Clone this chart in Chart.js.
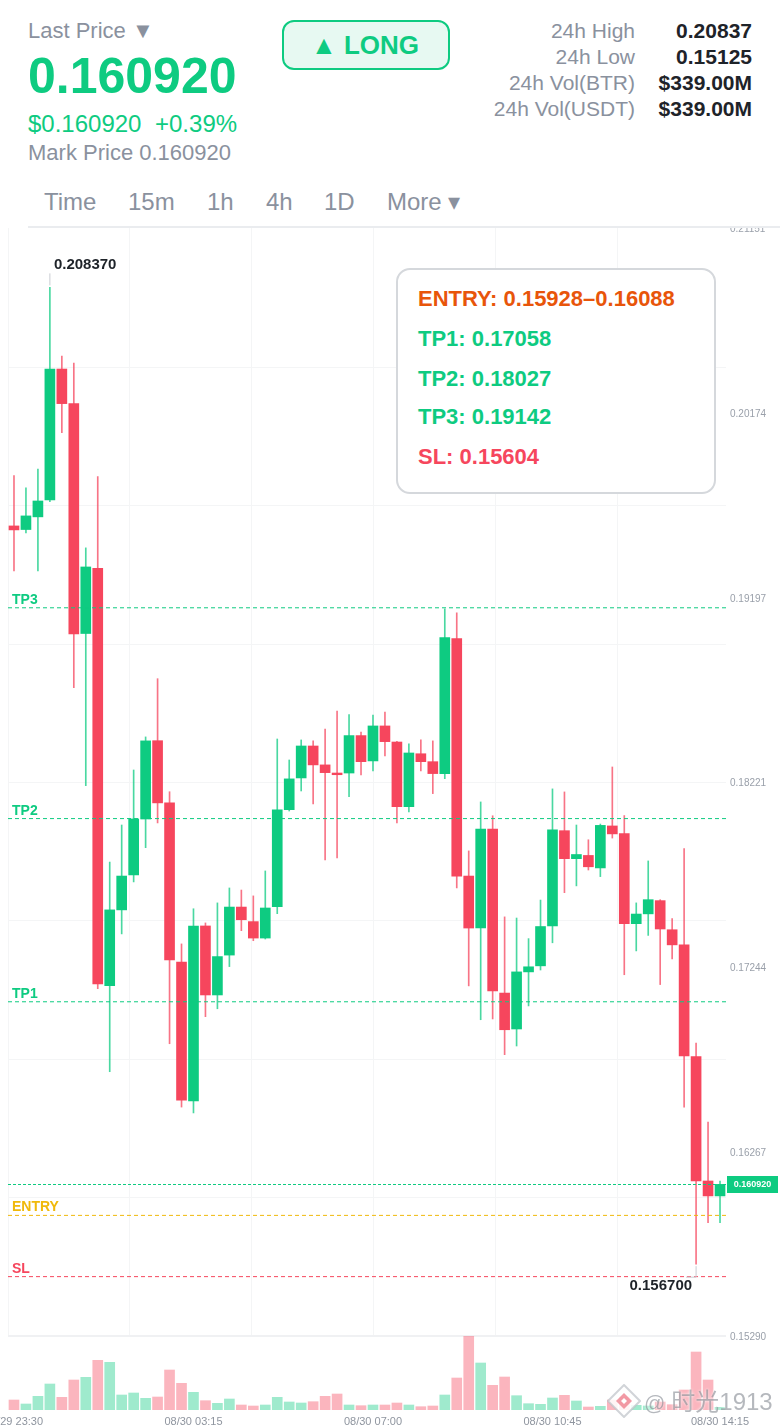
<!DOCTYPE html>
<html>
<head>
<meta charset="utf-8">
<title>Last Price</title>
<script src="https://cdn.jsdelivr.net/npm/chart.js"></script>
<style>
html, body { margin: 0; padding: 0; background: #fff; }
body { width: 780px; height: 1428px; position: relative; overflow: hidden; font-family: "Liberation Sans", Arial, sans-serif; }
canvas { position: absolute; left: 0; }
#priceChart { top: 200px; z-index: 1; }
#volumeChart { top: 1336px; z-index: 2; }
.t { position: absolute; white-space: pre; line-height: 1; z-index: 5; }
.gray { color: #8a919e; }
.green { color: #0ecb81; }
#header { position: absolute; left: 0; top: 0; width: 780px; height: 226px; background: #fff; z-index: 4; }
#rule { position: absolute; left: 28px; top: 226px; width: 752px; height: 2px; background: #eaecef; z-index: 4; }
#long { position: absolute; left: 282px; top: 20px; width: 162px; padding-right: 2px; height: 46px; border: 2px solid #0ecb81; border-radius: 12px; background: #e7f9f2; color: #0ecb81; font-weight: bold; font-size: 26px; line-height: 46px; text-align: center; z-index: 5; }
.lab { position: absolute; right: 145px; font-size: 21px; line-height: 1; color: #8a919e; z-index: 5; }
.val { position: absolute; right: 28px; font-size: 21px; line-height: 1; font-weight: bold; color: #1e2329; z-index: 5; }
#box { position: absolute; left: 396px; top: 268px; width: 316px; height: 222px; border: 2px solid #d5d8dc; border-radius: 14px; background: #fff; z-index: 3; }
.row { position: absolute; left: 418px; font-size: 22px; line-height: 1; font-weight: bold; z-index: 4; }
#mark { position: absolute; left: 644px; top: 1390px; font-size: 24px; line-height: 1; color: rgba(120,125,135,.55); text-shadow: 0 0 3px #fff; z-index: 6; white-space: pre; font-family: "Liberation Sans", "Noto Sans CJK SC", sans-serif; }
#mark span { font-size: 21px; margin-right: 6px; }
#logo { position: absolute; left: 607px; top: 1384px; z-index: 6; }
</style>
</head>
<body>
<div id="header"></div>
<div id="rule"></div>

<div class="t gray" style="left:28px;top:20px;font-size:22px">Last Price ▼</div>
<div class="t green" style="left:28px;top:51px;font-size:50px;font-weight:bold">0.160920</div>
<div class="t green" style="left:28px;top:112px;font-size:24px">$0.160920</div>
<div class="t green" style="left:155px;top:112px;font-size:24px">+0.39%</div>
<div class="t gray" style="left:28px;top:142px;font-size:22px">Mark Price 0.160920</div>

<div id="long">▲ LONG</div>

<div class="lab" style="top:20px">24h High</div><div class="val" style="top:20px">0.20837</div>
<div class="lab" style="top:46px">24h Low</div><div class="val" style="top:46px">0.15125</div>
<div class="lab" style="top:72px">24h Vol(BTR)</div><div class="val" style="top:72px">$339.00M</div>
<div class="lab" style="top:98px">24h Vol(USDT)</div><div class="val" style="top:98px">$339.00M</div>

<div class="t gray" style="left:44px;top:190px;font-size:24px">Time</div>
<div class="t gray" style="left:128px;top:190px;font-size:24px">15m</div>
<div class="t gray" style="left:207px;top:190px;font-size:24px">1h</div>
<div class="t gray" style="left:266px;top:190px;font-size:24px">4h</div>
<div class="t gray" style="left:324px;top:190px;font-size:24px">1D</div>
<div class="t gray" style="left:387px;top:190px;font-size:24px">More ▾</div>

<canvas id="priceChart" width="780" height="1150"></canvas>
<canvas id="volumeChart" width="780" height="92"></canvas>

<div id="box"></div>
<div class="row" style="top:288px;color:#e8550a">ENTRY: 0.15928–0.16088</div>
<div class="row green" style="top:328px">TP1: 0.17058</div>
<div class="row green" style="top:368px">TP2: 0.18027</div>
<div class="row green" style="top:406px">TP3: 0.19142</div>
<div class="row" style="top:446px;color:#f6465d">SL: 0.15604</div>

<svg id="logo" width="34" height="34" viewBox="0 0 34 34">
  <path d="M17 1 L33 17 L17 33 L1 17 Z" fill="rgba(255,255,255,.85)" stroke="rgba(190,194,200,.7)" stroke-width="2"/>
  <path d="M17 9 L25 17 L17 25 L9 17 Z" fill="rgba(238,120,135,.75)"/>
  <path d="M17 14 L20 17 L17 20 L14 17 Z" fill="#fff"/>
</svg>
<div id="mark"><span>@</span>时光1913</div>

<script>
// 15 minute candles, 08/29 23:30 to 08/30 14:15
var categories = [
    '08/29 23:30', '08/29 23:45', '08/30 00:00', '08/30 00:15', '08/30 00:30', '08/30 00:45',
    '08/30 01:00', '08/30 01:15', '08/30 01:30', '08/30 01:45', '08/30 02:00', '08/30 02:15',
    '08/30 02:30', '08/30 02:45', '08/30 03:00', '08/30 03:15', '08/30 03:30', '08/30 03:45',
    '08/30 04:00', '08/30 04:15', '08/30 04:30', '08/30 04:45', '08/30 05:00', '08/30 05:15',
    '08/30 05:30', '08/30 05:45', '08/30 06:00', '08/30 06:15', '08/30 06:30', '08/30 06:45',
    '08/30 07:00', '08/30 07:15', '08/30 07:30', '08/30 07:45', '08/30 08:00', '08/30 08:15',
    '08/30 08:30', '08/30 08:45', '08/30 09:00', '08/30 09:15', '08/30 09:30', '08/30 09:45',
    '08/30 10:00', '08/30 10:15', '08/30 10:30', '08/30 10:45', '08/30 11:00', '08/30 11:15',
    '08/30 11:30', '08/30 11:45', '08/30 12:00', '08/30 12:15', '08/30 12:30', '08/30 12:45',
    '08/30 13:00', '08/30 13:15', '08/30 13:30', '08/30 13:45', '08/30 14:00', '08/30 14:15'
];
var xLabels = ['08/29 23:30', '08/30 03:15', '08/30 07:00', '08/30 10:45', '08/30 14:15'];

var opens = [
    .19575, .19556, .19623, .19712, .20405, .20222, .19006, .19351, .17143, .17544,
    .17729, .18025, .18439, .18110, .17268, .16533, .17459, .17094, .17305, .17559,
    .17482, .17395, .17561, .18074, .18242, .18411, .18311, .18268, .18268, .18466,
    .18332, .18517, .18432, .18090, .18370, .18328, .18265, .18979, .17723, .17448,
    .17972, .17104, .16914, .17216, .17248, .17459, .17963, .17815, .17832, .17766,
    .17988, .17947, .17471, .17523, .17593, .17439, .17359, .16768, .16110, .16031
];
var highs = [
    .19841, .19776, .19876, .20837, .20474, .20437, .19459, .19836, .17797, .17993,
    .18284, .18459, .18767, .18169, .17364, .17550, .17475, .17581, .17660, .17649,
    .17618, .17750, .18448, .18337, .18443, .18438, .18501, .18596, .18577, .18485,
    .18575, .18591, .18435, .18422, .18443, .18438, .19136, .19116, .17856, .18115,
    .18042, .17507, .17501, .17392, .17596, .18184, .18168, .17993, .17915, .17998,
    .18300, .18043, .17581, .17803, .17598, .17498, .17868, .16840, .16422, .16110
];
var lows = [
    .19337, .19538, .19337, .19704, .20068, .18720, .18201, .17127, .16688, .17417,
    .17692, .17873, .18004, .16836, .16501, .16470, .16979, .17021, .17244, .17434,
    .17381, .17390, .17524, .18067, .18173, .18104, .17808, .17819, .18143, .18258,
    .18279, .18358, .18004, .18062, .18279, .18159, .18238, .17660, .17142, .16963,
    .16967, .16778, .16824, .17036, .17226, .17370, .17635, .17671, .17755, .17720,
    .17924, .17201, .17327, .17409, .17149, .17284, .16501, .15670, .15889, .15889
];
var closes = [
    .19554, .19628, .19707, .20405, .20222, .19004, .19358, .17152, .17544, .17723,
    .18025, .18438, .18110, .17279, .16538, .17459, .17094, .17297, .17559, .17492,
    .17395, .17554, .18073, .18237, .18411, .18311, .18270, .18259, .18466, .18328,
    .18517, .18434, .18090, .18374, .18328, .18265, .18984, .17723, .17448, .17972,
    .17115, .16910, .17216, .17243, .17456, .17967, .17815, .17837, .17772, .17991,
    .17946, .17471, .17522, .17598, .17443, .17359, .16772, .16110, .16031, .16092
];
var volumes = [
    10, 6, 13.7, 26, 12.7, 30, 32.7, 49.7, 47.7, 15,
    17, 11.7, 13, 40, 26.7, 17.7, 9.3, 6.7, 11, 5,
    4, 5, 12.7, 8, 7, 8.3, 13.7, 16, 5, 4.3,
    5, 5, 7, 5, 3.3, 4, 15, 32, 74, 47,
    24.7, 33, 14.3, 6.3, 5.7, 12, 14.7, 9, 3, 3.7,
    10, 13, 4.7, 4, 8, 5.3, 20, 58, 30, 2.7
];

var priceTicks = [.21151, .20174, .19197, .18221, .17244, .16267, .15290];
var gridPrices = [.20418, .19686, .18953, .18221, .17488, .16755, .16023];
var gridCandles = [10.19, 20.38, 30.57, 40.76, 50.95];
var lastPrice = .16092;

var levelNames = ['TP3', 'TP2', 'TP1', 'ENTRY', 'SL'];
var levelPrices = [.19142, .18027, .17058, .15928, .15604];
var levelColors = ['#0ecb81', '#0ecb81', '#0ecb81', '#f0b90b', '#f6465d'];

var GREEN = '#0ecb81';
var RED = '#f6465d';
var FONT = '"Liberation Sans", Arial, sans-serif';

function candleColor(i, alpha) {
    var c = closes[i] >= opens[i] ? '14,203,129' : '246,70,93';
    return 'rgba(' + c + ',' + alpha + ')';
}

// stops first/last tick labels from pushing the chart area inwards
function noPadding(scale) {
    scale.paddingLeft = 0;
    scale.paddingRight = 0;
    scale.paddingTop = 0;
    scale.paddingBottom = 0;
}

// Gridlines sit under the candles and don't line up with the tick labels
var gridPlugin = {
    id: 'grid',
    beforeDatasetsDraw: function (chart) {
        var ctx = chart.ctx, a = chart.chartArea, x = chart.scales.x, y = chart.scales.y;
        ctx.save();
        ctx.strokeStyle = '#f4f5f6';
        ctx.lineWidth = 1;
        ctx.beginPath();
        gridPrices.forEach(function (p) {
            var py = Math.round(y.getPixelForValue(p)) + .5;
            ctx.moveTo(a.left, py);
            ctx.lineTo(a.right, py);
        });
        ctx.moveTo(a.left + .5, a.top);
        ctx.lineTo(a.left + .5, a.bottom);
        gridCandles.forEach(function (c) {
            var px = Math.floor(x.getPixelForValue(c - .5)) + .5;
            ctx.moveTo(px, a.top);
            ctx.lineTo(px, a.bottom);
        });
        ctx.stroke();
        ctx.strokeStyle = '#f0f1f3';
        ctx.lineWidth = 2;
        ctx.beginPath();
        ctx.moveTo(a.left, a.bottom);
        ctx.lineTo(a.right, a.bottom);
        ctx.stroke();
        ctx.restore();
    }
};

// Level lines, last price tag, high and low labels
var overlayPlugin = {
    id: 'overlay',
    afterDatasetsDraw: function (chart) {
        var ctx = chart.ctx, a = chart.chartArea, x = chart.scales.x, y = chart.scales.y;
        ctx.save();
        ctx.lineWidth = 1;

        levelNames.forEach(function (name, i) {
            var py = y.getPixelForValue(levelPrices[i]);
            ctx.strokeStyle = levelColors[i];
            ctx.setLineDash([4, 3]);
            ctx.beginPath();
            ctx.moveTo(a.left, py);
            ctx.lineTo(a.right, py);
            ctx.stroke();
            ctx.fillStyle = levelColors[i];
            ctx.font = 'bold 14px ' + FONT;
            ctx.textAlign = 'left';
            ctx.textBaseline = 'alphabetic';
            ctx.fillText(name, a.left + 4, py - 4);
        });

        var lastY = Math.round(y.getPixelForValue(lastPrice)) + .5;
        ctx.strokeStyle = GREEN;
        ctx.setLineDash([3, 2]);
        ctx.beginPath();
        ctx.moveTo(a.left, lastY);
        ctx.lineTo(a.right, lastY);
        ctx.stroke();
        ctx.setLineDash([]);
        ctx.fillStyle = GREEN;
        ctx.fillRect(a.right + 1, lastY - 8.5, 51, 17);
        ctx.fillStyle = '#fff';
        ctx.font = 'bold 9px ' + FONT;
        ctx.textAlign = 'center';
        ctx.textBaseline = 'middle';
        ctx.fillText(lastPrice.toFixed(6), a.right + 26.5, lastY);

        var hi = highs.indexOf(Math.max.apply(null, highs));
        var lo = lows.indexOf(Math.min.apply(null, lows));
        var hiX = x.getPixelForValue(hi), hiY = y.getPixelForValue(highs[hi]);
        var loX = x.getPixelForValue(lo), loY = y.getPixelForValue(lows[lo]);
        ctx.strokeStyle = '#c9ccd2';
        ctx.beginPath();
        ctx.moveTo(hiX, hiY - 2);
        ctx.lineTo(hiX, hiY - 14);
        ctx.moveTo(loX, loY + 2);
        ctx.lineTo(loX, loY + 13);
        ctx.lineTo(loX - 10, loY + 13);
        ctx.stroke();
        ctx.fillStyle = '#1e2329';
        ctx.font = 'bold 15px ' + FONT;
        ctx.textBaseline = 'alphabetic';
        ctx.textAlign = 'left';
        ctx.fillText(highs[hi].toFixed(6), hiX + 4, hiY - 18);
        ctx.textAlign = 'right';
        ctx.fillText(lows[lo].toFixed(6), loX - 4, loY + 26);
        ctx.restore();
    }
};

var priceChart = new Chart(document.getElementById('priceChart').getContext('2d'), {
    type: 'bar',
    data: {
        labels: categories,
        datasets: [{
            // candle bodies
            data: opens.map(function (o, i) { return [o, closes[i]]; }),
            backgroundColor: opens.map(function (o, i) { return candleColor(i, 1); }),
            barThickness: 10,
            grouped: false,
            order: 1
        }, {
            // wicks
            data: lows.map(function (l, i) { return [l, highs[i]]; }),
            backgroundColor: lows.map(function (l, i) { return candleColor(i, .75); }),
            barThickness: 1,
            grouped: false,
            order: 2
        }]
    },
    options: {
        responsive: false,
        animation: false,
        events: [],
        layout: { padding: { left: 8, top: 28, bottom: 14 } },
        plugins: { legend: { display: false }, tooltip: { enabled: false } },
        scales: {
            x: { display: false, offset: true },
            y: {
                position: 'right',
                min: .15290,
                max: .21151,
                grid: { display: false, drawTicks: false },
                border: { display: false },
                afterBuildTicks: function (scale) {
                    scale.ticks = priceTicks.map(function (v) { return { value: v }; });
                },
                afterFit: function (scale) {
                    noPadding(scale);
                    scale.width = 54;
                },
                ticks: {
                    padding: 4,
                    labelOffset: 1.5,
                    color: '#9aa0aa',
                    font: { family: FONT, size: 10 },
                    callback: function (v) { return v.toFixed(5); }
                }
            }
        }
    },
    plugins: [gridPlugin, overlayPlugin]
});

var volumeChart = new Chart(document.getElementById('volumeChart').getContext('2d'), {
    type: 'bar',
    data: {
        labels: categories,
        datasets: [{
            data: volumes,
            backgroundColor: volumes.map(function (v, i) { return candleColor(i, .4); }),
            barThickness: 10
        }]
    },
    options: {
        responsive: false,
        animation: false,
        events: [],
        layout: { padding: { left: 8, right: 54 } },
        plugins: { legend: { display: false }, tooltip: { enabled: false } },
        scales: {
            x: {
                offset: true,
                grid: { display: false, drawTicks: false },
                border: { display: false },
                afterFit: function (scale) {
                    noPadding(scale);
                    scale.height = 18;
                },
                ticks: {
                    autoSkip: false,
                    maxRotation: 0,
                    minRotation: 0,
                    padding: 5,
                    color: '#8f959f',
                    font: { family: FONT, size: 11 },
                    callback: function (v, i) {
                        return xLabels.indexOf(categories[i]) >= 0 ? categories[i] : '';
                    }
                }
            },
            y: { display: false, min: 0, max: 74 }
        }
    }
});
</script>
</body>
</html>
